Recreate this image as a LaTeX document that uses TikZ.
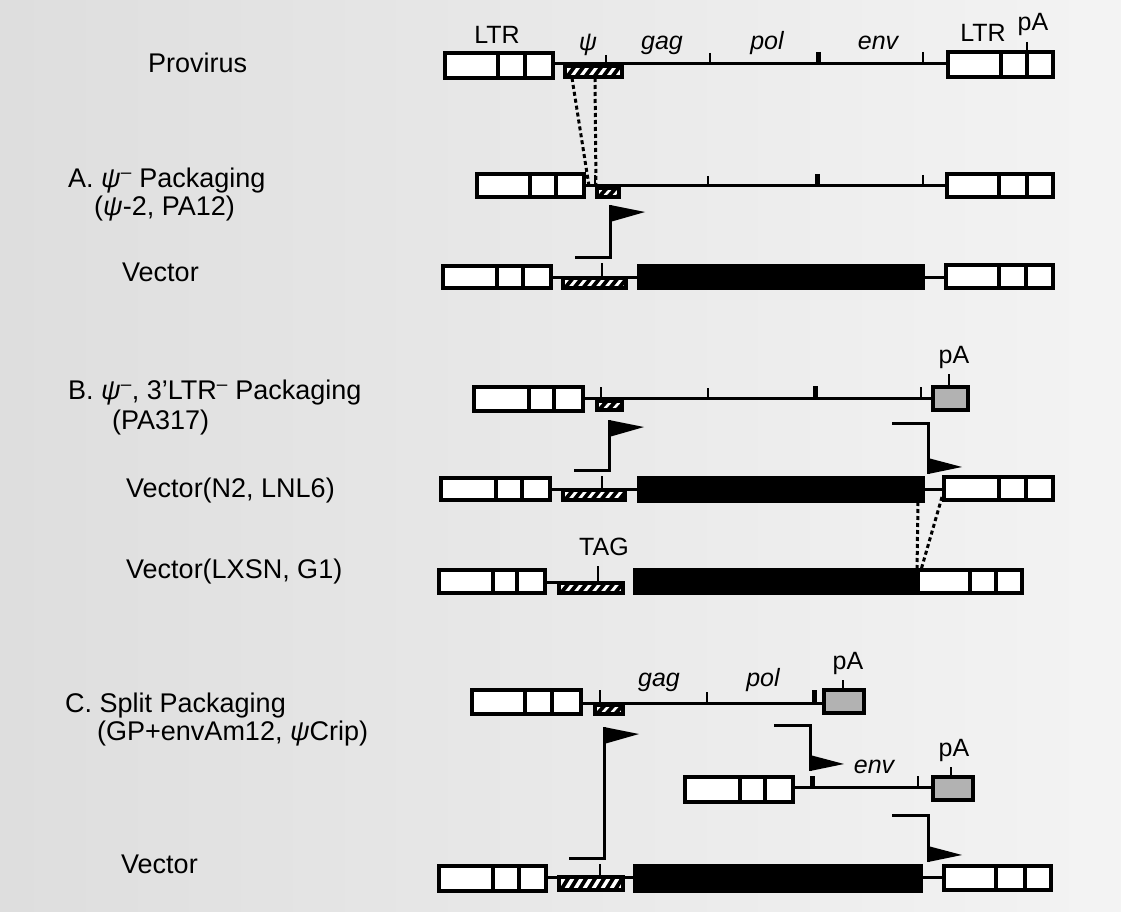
\documentclass[tikz,border=0pt]{standalone}
\usepackage{fontspec}
\setmainfont{Liberation Sans}
\tikzset{
  boxline/.style={line width=3.2pt, line join=miter},
  dnaline/.style={line width=3pt},
  tickthin/.style={line width=2.2pt},
  tickthick/.style={line width=5pt},
  flagline/.style={line width=3pt},
  conn/.style={line width=3pt, dash pattern=on 4pt off 3pt},
  leftlabel/.style={anchor=mid west, inner sep=0pt, font=\fontsize{27}{30}\selectfont},
  genelabel/.style={anchor=mid, inner sep=0pt, font=\fontsize{25}{28}\selectfont\itshape},
  plainlabel/.style={anchor=mid, inner sep=0pt, font=\fontsize{25}{28}\selectfont},
}
\newcommand\myltr[6]{%
  \draw[boxline,fill=white] (#1,#2) rectangle (#3,#4);
  \draw[boxline] (#5,#2) -- (#5,#4) (#6,#2) -- (#6,#4);}
\newcommand\myhatch[4]{%
  \fill[white] (#1,#2) rectangle (#3,#4);
  \begin{scope}
    \clip (#1,#2) rectangle (#3,#4);
    \foreach \k in {-16,-7,...,70} {\draw[line width=3.8pt] ({#1+\k},#4) -- ({#1+\k+8},#2);}
  \end{scope}
  \draw[boxline] (#1,#2) rectangle (#3,#4);}
\newcommand\myblack[4]{\draw[boxline,fill=black] (#1,#2) rectangle (#3,#4);}
\newcommand\mypa[4]{\draw[boxline,fill=gray!60] (#1,#2) rectangle (#3,#4);}
\newcommand\flagup[4]{% xstart, ybase, xvert, ytop
  \draw[flagline] (#1,#2) -- (#3,#2) -- (#3,#4);
  \fill (#3,#4) -- (#3+35,#4+7) -- (#3,#4+17) -- cycle;}
\newcommand\flagdown[4]{% xstart, ytop, xvert, ybottom
  \draw[flagline] (#1,#2) -- (#3,#2) -- (#3,#4);
  \fill (#3,#4-16) -- (#3+34,#4-7) -- (#3,#4) -- cycle;}
\begin{document}
\begin{tikzpicture}[x=1pt,y=-1pt]
\useasboundingbox (0,0) rectangle (1121,912);
\shade[left color=gray!26, right color=gray!9] (0,0) rectangle (1121,912);

% ---------- left labels ----------
\node[leftlabel] (lprov) at (148,70) {Provirus};
\node[leftlabel] (lA) at (68,185) {A.\ \textit{ψ}\textsuperscript{–} Packaging};
\node[leftlabel] (lA2) at (94,213) {(\textit{ψ}-2, PA12)};
\node[leftlabel] (lAv) at (122,279) {Vector};
\node[leftlabel] (lB) at (68,397) {B.\ \textit{ψ}\textsuperscript{–}, 3'LTR\textsuperscript{–} Packaging};
\node[leftlabel] (lB2) at (112,427) {(PA317)};
\node[leftlabel] (lBv1) at (126,495) {Vector(N2, LNL6)};
\node[leftlabel] (lBv2) at (126,576) {Vector(LXSN, G1)};
\node[leftlabel] (lC) at (65,710) {C.\ Split Packaging};
\node[leftlabel] (lC2) at (97,738) {(GP+envAm12, \textit{ψ}Crip)};
\node[leftlabel] (lCv) at (121,871) {Vector};

% ---------- Provirus ----------
\draw[dnaline] (553,64) -- (948,64);
\myhatch{565}{66}{622}{77}
\draw[tickthin] (606,55) -- (606,64);
\draw[tickthin] (710,53) -- (710,64);
\draw[tickthick] (818,52) -- (818,64);
\draw[tickthin] (923,52) -- (923,64);
\myltr{445}{53}{553}{78}{498}{525}
\myltr{948}{52}{1053}{77}{1001}{1027}
\draw[tickthin] (1027,42) -- (1027,52);
\node[plainlabel] (tLTR1) at (497,41) {LTR};
\node[genelabel] (tpsi) at (588,48) {ψ};
\node[genelabel] (tgag) at (662,47) {gag};
\node[genelabel] (tpol) at (767,47) {pol};
\node[genelabel] (tenv) at (878,47) {env};
\node[plainlabel] (tLTR2) at (983,39) {LTR};
\node[plainlabel] (tpA0) at (1033,28) {pA};
\coordinate (psiL) at (572,78);
\coordinate (psiR) at (595,78);

% ---------- A packaging ----------
\draw[dnaline] (584,186) -- (947,186);
\draw[tickthin] (595,175) -- (595,186);
\myhatch{597}{188}{619}{197}
\draw[tickthin] (708,176) -- (708,186);
\draw[tickthick] (817,174) -- (817,186);
\draw[tickthin] (923,175) -- (923,186);
\myltr{477}{174}{584}{197}{530}{556}
\myltr{947}{174}{1053}{197}{999}{1027}
\coordinate (aL) at (589,186);
\coordinate (aR) at (596,186);
\draw[conn] (psiL) -- (aL);
\draw[conn] (psiR) -- (aR);

% ---------- A vector ----------
\flagup{575}{257}{610}{205}
\draw[dnaline] (551,277) -- (946,277);
\draw[tickthin] (602,263) -- (602,277);
\myhatch{563}{278}{626}{288}
\myblack{639}{266}{923}{288}
\myltr{443}{266}{551}{288}{497}{523}
\myltr{946}{265}{1053}{288}{999}{1026}

% ---------- B packaging ----------
\draw[dnaline] (583,398) -- (933,398);
\draw[tickthin] (601,387) -- (601,398);
\myhatch{597}{401}{622}{410}
\draw[tickthin] (708,388) -- (708,398);
\draw[tickthick] (815,386) -- (815,398);
\draw[tickthin] (921,387) -- (921,398);
\myltr{474}{387}{583}{411}{529}{554}
\mypa{933}{387}{968}{410}
\draw[tickthin] (949,374) -- (949,387);
\node[plainlabel] (tpA1) at (954,361) {pA};

\flagup{574}{470}{609}{420}
\flagdown{892}{423}{928}{474}

% ---------- B vector N2 ----------
\draw[dnaline] (550,489) -- (944,489);
\draw[tickthin] (602,476) -- (602,489);
\myhatch{563}{490}{625}{500}
\myblack{639}{478}{923}{501}
\myltr{441}{478}{550}{500}{496}{522}
\myltr{944}{477}{1053}{500}{999}{1026}
\coordinate (nL) at (918,502);
\coordinate (nR) at (942,497);

% ---------- B vector LXSN ----------
\draw[dnaline] (545,582) -- (559,582);
\draw[tickthin] (598,566) -- (598,582);
\myhatch{559}{583}{623}{593}
\myblack{635}{570}{918}{593}
\myltr{439}{570}{545}{593}{493}{517}
\myltr{918}{570}{1022}{593}{970}{996}
\node[plainlabel] (tTAG) at (604,553) {TAG};
\coordinate (xL) at (917,570);
\coordinate (xR) at (921,570);
\draw[conn] (nL) -- (xL);
\draw[conn] (nR) -- (xR);

% ---------- C packaging gag-pol ----------
\draw[dnaline] (581,703) -- (824,703);
\draw[tickthin] (600,690) -- (600,703);
\myhatch{595}{705}{623}{714}
\draw[tickthin] (707,692) -- (707,703);
\draw[tickthick] (814,690) -- (814,703);
\myltr{472}{690}{581}{714}{525}{552}
\mypa{824}{690}{864}{713}
\draw[tickthin] (843,680) -- (843,690);
\node[plainlabel] (tpA2) at (848,667) {pA};
\node[genelabel] (tgag2) at (659,684) {gag};
\node[genelabel] (tpol2) at (763,684) {pol};

\flagup{569}{858}{604}{727}
\flagdown{774}{725}{810}{771}

% ---------- C packaging env ----------
\draw[dnaline] (793,787) -- (933,787);
\draw[tickthick] (812,776) -- (812,787);
\draw[tickthin] (918,776) -- (918,787);
\myltr{685}{777}{793}{802}{740}{765}
\mypa{933}{777}{973}{800}
\draw[tickthin] (951,767) -- (951,777);
\node[plainlabel] (tpA3) at (954,754) {pA};
\node[genelabel] (tenv2) at (874,771) {env};

\flagdown{892}{815}{928}{862}

% ---------- C vector ----------
\draw[dnaline] (546,877) -- (944,877);
\draw[tickthin] (600,864) -- (600,877);
\myhatch{559}{877}{623}{890}
\myblack{635}{866}{921}{891}
\myltr{439}{866}{546}{891}{493}{519}
\myltr{944}{866}{1051}{890}{996}{1025}
\end{tikzpicture}
\end{document}
